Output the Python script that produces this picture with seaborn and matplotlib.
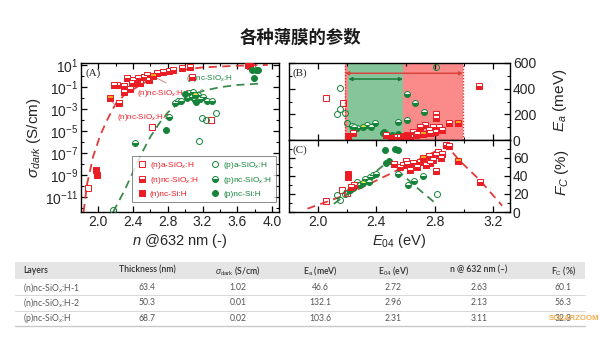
import numpy as np
import matplotlib
matplotlib.use("Agg")
import matplotlib.pyplot as plt
from matplotlib.patches import Rectangle
from matplotlib.ticker import FixedLocator, MultipleLocator, LogFormatterMathtext, NullFormatter
import seaborn as sns

sns.set_theme(style="white")
plt.rcParams["font.family"] = ["Liberation Sans", "Noto Sans CJK SC", "DejaVu Sans"]
plt.rcParams["mathtext.fontset"] = "custom"
plt.rcParams["mathtext.rm"] = "Liberation Sans"
plt.rcParams["mathtext.it"] = "Liberation Sans:italic"
plt.rcParams["mathtext.bf"] = "Liberation Sans:bold"

RED = "#ea1c24"
GREEN = "#15843a"
ORANGE = "#f5a623"
YELLOW = "#e3e04a"
SQ = 3.8   # square marker size
CI = 4.3   # circle marker size

# ---------------- table of selected layers ----------------
layers = ["(n)nc-SiO$_x$:H-1", "(n)nc-SiO$_x$:H-2", "(p)nc-SiO$_x$:H"]
thickness = [63.4, 50.3, 68.7]
sigma_dark = [1.02, 0.01, 0.02]
e_a = [46.6, 132.1, 103.6]
e_04 = [2.72, 2.96, 2.31]
n_632 = [2.63, 2.13, 3.11]
f_c = [60.1, 56.3, 32.3]
headers = ["Layers", "Thickness (nm)", r"$\sigma_{\rm dark}$ (S/cm)", r"E$_{\rm a}$ (meV)",
           r"E$_{04}$ (eV)", "n @ 632 nm (\u2013)", r"F$_{\rm C}$ (%)"]

# ---------------- panel A: dark conductivity vs refractive index (log10 S/cm) ----------------
a_na_n = [1.875, 2.615, 3.30]
a_na_s = [-10.2, -4.65, -4.0]
a_nnc_n = [2.24, 2.22, 2.29, 2.33, 2.385, 2.40, 2.46, 2.48, 2.52, 2.56, 2.58, 2.67, 2.75,
           2.81, 2.86, 2.96, 3.06, 3.08, 2.36, 2.18, 2.30]
a_nnc_s = [-2.4, -0.77, -0.9, -0.2, -0.65, -0.35, -0.2, -0.65, -0.05, 0.1, -0.35, 0.32, 0.41,
           0.5, 0.56, 0.72, 0.81, -0.04, -1.16, -0.8, -1.4]
a_nsi_n = [1.97, 1.99, 3.72, 3.75, 2.45]
a_nsi_s = [-8.5, -8.95, 1.0, 0.95, -0.6]
a_pa_n = [2.17, 3.19, 3.24, 3.36, 3.16]
a_pa_s = [-12.2, -3.83, -3.98, -3.35, -5.9]
a_pnc_n = [2.42, 2.81, 2.88, 2.92, 3.02, 3.04, 3.08, 3.09, 3.15, 3.17, 3.21, 3.25, 3.31, 3.11, 2.95]
a_pnc_s = [-6.05, -3.7, -2.4, -2.3, -2.0, -1.55, -1.86, -1.4, -1.7, -2.1, -1.86, -2.3, -2.3, -2.16, -2.25]
a_psi_n = [3.77, 3.81, 3.84, 3.79, 3.0, 3.13, 2.78]
a_psi_s = [0.56, 0.56, 0.56, -0.2, -1.6, -2.35, -4.9]
a_fit_n_x = [1.83, 1.87, 1.94, 2.02, 2.10, 2.20, 2.30, 2.40, 2.55, 2.70, 2.90, 3.20, 3.60, 3.95]
a_fit_n_y = [-12.35, -9.8, -7.3, -5.4, -4.0, -2.5, -1.7, -1.2, -0.5, 0.1, 0.5, 0.8, 0.95, 1.02]
a_fit_p_x = [2.17, 2.30, 2.40, 2.50, 2.60, 2.70, 2.80, 2.90, 3.00, 3.20, 3.40, 3.60, 3.90]
a_fit_p_y = [-12.35, -10.4, -8.7, -7.0, -5.5, -4.3, -3.3, -2.6, -2.0, -1.35, -1.0, -0.8, -0.65]

# ---------------- panel B: activation energy vs E04 ----------------
b_na_x = [2.06, 2.17]
b_na_y = [330, 291]
b_pa_x = [2.154, 2.154, 2.13, 2.19, 2.20, 2.81]
b_pa_y = [403, 242, 200, 213, 135, 572]
b_pnc_x = [2.232, 2.267, 2.335, 2.364, 2.39, 2.55, 2.61, 2.665, 2.727, 2.61, 2.25]
b_pnc_y = [109, 96, 117, 104, 130, 138, 356, 291, 216, 156, 100]
b_psi_x = [2.444, 2.47, 2.506, 2.54, 2.55, 2.45]
b_psi_y = [57, 47, 39, 31, 47, 62]
b_nnc_x = [2.243, 2.47, 2.53, 2.56, 3.10, 2.81, 2.81, 2.73, 2.70, 2.79, 2.83, 2.90, 2.76,
           2.80, 2.85, 2.65, 2.61, 2.63, 2.675, 2.77, 2.59, 2.68]
b_nnc_y = [52, 40, 25, 21, 421, 203, 169, 117, 104, 104, 104, 130, 78,
           65, 78, 65, 39, 26, 39, 52, 31, 45]
b_nsi_x = [2.21, 2.58, 2.50, 2.62]
b_nsi_y = [31, 23, 15, 30]
b_red_range = [2.187, 2.993]
b_green_range = [2.21, 2.583]

# ---------------- panel C: crystalline fraction vs E04 ----------------
c_na_x = [2.06, 2.164, 2.198]
c_na_y = [11.9, 24, 21]
c_pa_x = [2.13, 2.152, 2.187, 2.813]
c_pa_y = [18.5, 13, 20.4, 20.4]
c_nsi_x = [2.21, 2.21]
c_nsi_y = [42.6, 39]
c_pnc_x = [2.22, 2.27, 2.32, 2.36, 2.38, 2.40, 2.35, 2.29, 2.25, 2.55, 2.62, 2.66, 2.72, 2.24]
c_pnc_y = [25, 33, 37, 39, 41, 42.6, 33, 30, 28, 42.6, 29.6, 35, 40, 27]
c_psi_x = [2.46, 2.55, 2.53, 2.47, 2.49]
c_psi_y = [68.5, 68.5, 70, 54.5, 56.6]
c_nnc_x = [2.52, 2.56, 2.58, 2.61, 2.65, 2.70, 2.79, 2.81, 2.82, 2.85, 2.88, 2.90, 2.81,
           2.74, 2.68, 2.63, 2.77, 3.11, 2.25, 2.23, 2.60, 2.76, 2.84]
c_nnc_y = [53.7, 50, 52, 53.7, 54.4, 55.5, 57.4, 63, 66.6, 64.8, 74, 73, 46,
           52, 50, 47, 55, 33.3, 30, 28, 57, 62, 60]
c_fit_n_x = [1.93, 2.21, 2.49, 2.65, 2.80, 2.88, 2.97, 3.11, 3.26]
c_fit_n_y = [3.7, 20, 42, 55, 67, 74, 57, 35, 7]
c_fit_p_x = [2.11, 2.31, 2.45, 2.50, 2.54, 2.70, 2.81]
c_fit_p_y = [9, 33, 52, 56, 47, 24, 9]

fig = plt.figure(figsize=(6.0, 3.37), dpi=100)
W, H = 600.0, 337.0


def px_axes(l, t, r, b, **kw):
    return fig.add_axes([l / W, 1 - b / H, (r - l) / W, (b - t) / H], **kw)


axT = px_axes(0, 0, 600, 337)
axT.set_xlim(0, W)
axT.set_ylim(H, 0)
axT.axis("off")

axA = px_axes(81, 63, 279, 212)
axB = px_axes(289, 63, 510, 140)
axC = px_axes(289, 140, 510, 212)


def dots(ax, x, y, marker, color, fill="full", alt="white", ms=SQ, label=None, z=4):
    kw = dict(marker=marker, markersize=ms, markeredgecolor=color, markeredgewidth=0.7,
              linestyle="", fillstyle=fill, markerfacecolor=color, markerfacecoloralt=alt)
    if label is not None:
        kw["label"] = label
    sns.lineplot(x=list(x), y=list(y), ax=ax, estimator=None, sort=False, color=color,
                 legend=False, zorder=z, **kw)


def fit(ax, x, y, color):
    sns.lineplot(x=list(x), y=list(y), ax=ax, estimator=None, sort=False, color=color,
                 linestyle=(0, (4.5, 3)), linewidth=1.3, legend=False, zorder=2)


def pw(v):
    return 10.0 ** np.asarray(v)


# ---- panel A ----
fit(axA, a_fit_n_x, pw(a_fit_n_y), "#e43a3a")
fit(axA, a_fit_p_x, pw(a_fit_p_y), "#3c8a4c")
dots(axA, a_na_n, pw(a_na_s), "s", RED, fill="none", label="(n)a-SiO$_x$:H")
dots(axA, a_nnc_n, pw(a_nnc_s), "s", RED, fill="bottom", label="(n)nc-SiO$_x$:H")
dots(axA, a_nsi_n, pw(a_nsi_s), "s", RED, label="(n)nc-Si:H")
dots(axA, a_pa_n, pw(a_pa_s), "o", GREEN, fill="none", ms=CI, label="(p)a-SiO$_x$:H")
dots(axA, a_pnc_n, pw(a_pnc_s), "o", GREEN, fill="bottom", ms=CI, label="(p)nc-SiO$_x$:H")
dots(axA, a_psi_n, pw(a_psi_s), "o", GREEN, ms=CI, label="(p)nc-Si:H")
dots(axA, n_632[:2], sigma_dark[:2], "s", RED, fill="bottom", alt=ORANGE, z=5)
dots(axA, n_632[2:], sigma_dark[2:], "o", GREEN, fill="bottom", alt=YELLOW, ms=CI, z=5)

axA.set_yscale("log")
axA.set_xlim(1.80, 4.08)
axA.set_ylim(10 ** -12.35, 10 ** 1.2)
axA.yaxis.set_major_locator(FixedLocator([10.0 ** k for k in range(1, -12, -2)]))
axA.yaxis.set_major_formatter(LogFormatterMathtext())
axA.yaxis.set_minor_locator(FixedLocator([10.0 ** k for k in range(0, -13, -2)]))
axA.yaxis.set_minor_formatter(NullFormatter())
axA.xaxis.set_major_locator(MultipleLocator(0.4))
axA.xaxis.set_minor_locator(MultipleLocator(0.2))
axA.set_xlabel("$n$ @632 nm (-)", fontsize=10.5, labelpad=2)
axA.set_ylabel(r"$\sigma_{dark}$ (S/cm)", fontsize=11)
axA.yaxis.set_label_coords(-0.19, 0.5)
axA.text(0.025, 0.93, "(A)", transform=axA.transAxes, fontsize=8, family="Liberation Serif",
         va="center", ha="left")

handles, labels = axA.get_legend_handles_labels()
leg = axA.legend(handles, labels, ncol=2, loc="lower right", bbox_to_anchor=(0.985, 0.065),
                 fontsize=6.0, frameon=True, fancybox=False, edgecolor="#555555",
                 borderpad=0.5, handletextpad=0.3, columnspacing=1.4, labelspacing=0.5,
                 handlelength=1.3, borderaxespad=0)
leg.get_frame().set_linewidth(0.6)
for t, c in zip(leg.get_texts(), [RED] * 3 + [GREEN] * 3):
    t.set_color(c)

# labels for the selected layers
lead = dict(arrowstyle="-", color="#c98c8c", lw=0.7)
axA.annotate(layers[0], xy=(n_632[0], sigma_dark[0]), xytext=(2.446, 10 ** -1.53),
             fontsize=5.8, color=RED, va="center", ha="left",
             arrowprops=dict(lead, relpos=(0.7, 1.0)))
axA.annotate(layers[1], xy=(n_632[1], sigma_dark[1]), xytext=(2.215, 10 ** -3.75),
             fontsize=5.8, color=RED, va="center", ha="left",
             arrowprops=dict(lead, relpos=(0.05, 1.0)))
axA.annotate(layers[2], xy=(n_632[2], sigma_dark[2]), xytext=(3.01, 10 ** -0.25),
             fontsize=5.8, color=GREEN, va="center", ha="left",
             arrowprops=dict(arrowstyle="-", color="#8aa88a", lw=0.7, relpos=(0.5, 0.0)))

# ---- panel B ----
axB.axvspan(*b_red_range, color="#fb8a8a", zorder=0, lw=0)
axB.axvspan(*b_green_range, color="#86c59a", zorder=1, lw=0)
for xv in b_red_range:
    axB.axvline(xv, color="#e03030", ls=(0, (1, 1.2)), lw=1.0, zorder=1.5)
axB.annotate("", xy=(b_red_range[0], 520), xytext=(b_red_range[1], 520),
             arrowprops=dict(arrowstyle="<|-|>", color="#d9443e", lw=1.1,
                             mutation_scale=5, shrinkA=0, shrinkB=0), zorder=3)
axB.annotate("", xy=(b_green_range[0], 475), xytext=(b_green_range[1], 475),
             arrowprops=dict(arrowstyle="<|-|>", color="#1b7a3a", lw=1.1,
                             mutation_scale=5, shrinkA=0, shrinkB=0), zorder=3)
dots(axB, b_na_x, b_na_y, "s", RED, fill="none")
dots(axB, b_pa_x, b_pa_y, "o", GREEN, fill="none", ms=CI)
dots(axB, b_pnc_x, b_pnc_y, "o", GREEN, fill="bottom", ms=CI)
dots(axB, b_psi_x, b_psi_y, "o", GREEN, ms=CI)
dots(axB, b_nnc_x, b_nnc_y, "s", RED, fill="bottom")
dots(axB, b_nsi_x, b_nsi_y, "s", RED)
dots(axB, e_04[:2], e_a[:2], "s", RED, fill="bottom", alt=ORANGE, z=5)
dots(axB, e_04[2:], e_a[2:], "o", GREEN, fill="bottom", alt=YELLOW, ms=CI, z=5)
axB.set_xlim(1.804, 3.314)
axB.set_ylim(0, 600)
axB.yaxis.set_major_locator(FixedLocator([0, 200, 400, 600]))
axB.yaxis.set_minor_locator(MultipleLocator(100))
axB.xaxis.set_major_locator(MultipleLocator(0.4))
axB.xaxis.set_minor_locator(MultipleLocator(0.2))
axB.set_xticklabels([])
axB.set_xlabel("")
axB.yaxis.tick_right()
axB.set_ylabel("$E_a$ (meV)", fontsize=11)
axB.yaxis.set_label_position("right")
axB.yaxis.set_label_coords(1.185, 0.52)
axB.text(0.014, 0.87, "(B)", transform=axB.transAxes, fontsize=8, family="Liberation Serif",
         va="center", ha="left")

# ---- panel C ----
fit(axC, c_fit_n_x, c_fit_n_y, "#e43a3a")
fit(axC, c_fit_p_x, c_fit_p_y, "#3c8a4c")
dots(axC, c_na_x, c_na_y, "s", RED, fill="none")
dots(axC, c_pa_x, c_pa_y, "o", GREEN, fill="none", ms=CI)
dots(axC, c_pnc_x, c_pnc_y, "o", GREEN, fill="bottom", ms=CI)
dots(axC, c_psi_x, c_psi_y, "o", GREEN, ms=CI)
dots(axC, c_nnc_x, c_nnc_y, "s", RED, fill="bottom")
dots(axC, c_nsi_x, c_nsi_y, "s", RED)
dots(axC, e_04[:2], f_c[:2], "s", RED, fill="bottom", alt=ORANGE, z=5)
dots(axC, e_04[2:], f_c[2:], "o", GREEN, fill="bottom", alt=YELLOW, ms=CI, z=5)
axC.set_xlim(1.804, 3.314)
axC.set_ylim(0, 80)
axC.yaxis.set_major_locator(FixedLocator([0, 20, 40, 60]))
axC.yaxis.set_minor_locator(MultipleLocator(10))
axC.xaxis.set_major_locator(MultipleLocator(0.4))
axC.xaxis.set_minor_locator(MultipleLocator(0.2))
axC.yaxis.tick_right()
axC.set_xlabel("$E_{04}$ (eV)", fontsize=10.5, labelpad=2)
axC.set_ylabel("$F_C$ (%)", fontsize=11)
axC.yaxis.set_label_position("right")
axC.yaxis.set_label_coords(1.195, 0.55)
axC.text(0.014, 0.857, "(C)", transform=axC.transAxes, fontsize=8, family="Liberation Serif",
         va="center", ha="left")

for ax in (axA, axB, axC):
    for s in ax.spines.values():
        s.set_color("black")
        s.set_linewidth(1.0)
    ax.tick_params(which="both", direction="in", top=True, bottom=True, left=True, right=True,
                   labelsize=10, pad=2, color="black")
    ax.tick_params(which="major", length=4, width=0.9)
    ax.tick_params(which="minor", length=2, width=0.8)
axB.tick_params(labelleft=False, labelright=True)
axC.tick_params(labelleft=False, labelright=True)

# ---- title ----
fig.text(0.5, 1 - 38 / H, "各种薄膜的参数", ha="center", va="center", fontsize=12.5,
         fontweight="bold", family=["Noto Sans CJK SC", "DejaVu Sans"], color="#1a1a1a")

# ---- table ----
col_x = [23, 147, 238, 320, 393, 479, 563]
col_ha = ["left"] + ["center"] * 6
axT.add_patch(Rectangle((15, 262), 570, 17, color="#e5e5e5", lw=0, zorder=0))
for yl in (295, 310.5):
    axT.plot([15, 585], [yl, yl], color="#d8d8d8", lw=0.7)
axT.plot([15, 585], [326, 326], color="#c8c8c8", lw=1.0)
tfont = dict(fontsize=6.2, family=["Lato", "DejaVu Sans"], va="center")
for x, ha, h in zip(col_x, col_ha, headers):
    axT.text(x, 270.5, h, ha=ha, color="#2e2e2e", fontweight="semibold", **tfont)
row_y = [287.3, 302.7, 318.3]
for i, y in enumerate(row_y):
    vals = [layers[i], f"{thickness[i]:.1f}", f"{sigma_dark[i]:.2f}", f"{e_a[i]:.1f}",
            f"{e_04[i]:.2f}", f"{n_632[i]:.2f}", f"{f_c[i]:.1f}"]
    for x, ha, v in zip(col_x, col_ha, vals):
        axT.text(x, y, v, ha=ha, color="#555555", **tfont)
axT.text(599, 318.5, "SOLARZOOM", ha="right", va="center", fontsize=5.6, fontweight="bold",
         color="#f0a030", alpha=0.85, family=["Liberation Sans"])

fig.savefig("out.png", dpi=100, facecolor="white")
